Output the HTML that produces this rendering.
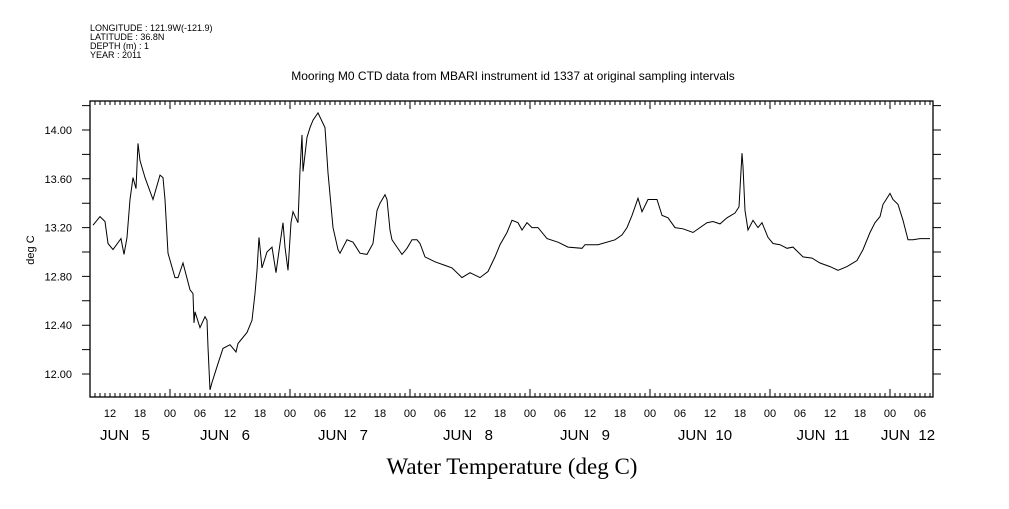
<!DOCTYPE html>
<html><head><meta charset="utf-8"><style>
body{margin:0;background:#fff;width:1009px;height:504px;overflow:hidden}
svg text{font-family:"Liberation Sans",sans-serif;fill:#000}
</style></head><body>
<svg id="chart" width="1009" height="504" xmlns="http://www.w3.org/2000/svg">
<g font-size="9">
<text x="90" y="31">LONGITUDE : 121.9W(-121.9)</text>
<text x="90" y="40">LATITUDE : 36.8N</text>
<text x="90" y="49">DEPTH (m) : 1</text>
<text x="90" y="58">YEAR : 2011</text>
</g>
<text x="513" y="80" font-size="12" text-anchor="middle">Mooring M0 CTD data from MBARI instrument id 1337 at original sampling intervals</text>
<text x="34" y="250" font-size="11" text-anchor="middle" transform="rotate(-90 34 250)">deg C</text>
<text x="512" y="474" font-size="23" text-anchor="middle" style="font-family:'Liberation Serif',serif">Water Temperature (deg C)</text>
<rect x="90" y="101" width="843" height="296" fill="none" stroke="#000" stroke-width="1.3"/>
<g id="axes"></g>
<path id="line" fill="none" stroke="#000" stroke-width="1"/>
</svg>
<script>
const hours=[0.6,2,3,3.6,4.6,6.2,6.8,7.4,8,8.6,9.2,9.6,10,11,12.6,14,14.6,15,15.6,17,17.6,18.6,20,20.6,20.8,21,22,23,23.4,23.6,24,24.4,25.4,26.6,28,29.2,29.6,31.4,32.4,33,33.4,33.8,34.4,35.4,36.4,37.2,37.6,38.6,39,39.6,40.2,40.6,41.6,42,42.4,42.6,43.4,44,44.6,45.6,47,47.6,48.6,49.6,50,51.4,52.6,54,55.4,56.6,57.4,58,59,59.4,60,60.4,61.4,62.4,63.4,64.4,65.4,66,67,69,71,72.4,74.4,76,78,79.6,81,82,83.4,84.4,85.6,86.4,87.4,88.4,89.6,91.4,93.6,95.6,98.4,99,101.6,105,106.4,107.4,108.4,109.6,110.4,111.6,113.4,114.4,115.6,117,118.6,120.6,123.4,124.6,126,127.4,129,129.8,130.4,130.6,131,131.6,132.6,133.6,134.4,135.6,136.6,138,139.4,140.6,142.6,144.4,146,148,149.6,151.4,153.4,154.6,156,157,158,158.6,160,160.6,161.6,162.6,163.6,164.6,166,168];
const temps=[13.22,13.29,13.25,13.07,13.02,13.11,12.98,13.12,13.43,13.61,13.52,13.89,13.75,13.61,13.43,13.63,13.61,13.43,12.99,12.79,12.79,12.91,12.69,12.66,12.42,12.51,12.38,12.47,12.44,12.22,11.87,11.93,12.06,12.21,12.24,12.18,12.25,12.34,12.44,12.66,12.85,13.12,12.87,13.00,13.04,12.83,12.95,13.24,13.04,12.85,13.24,13.33,13.24,13.67,13.96,13.66,13.94,14.02,14.08,14.14,14.02,13.65,13.20,13.02,12.99,13.10,13.08,12.99,12.98,13.07,13.34,13.40,13.47,13.43,13.18,13.10,13.04,12.98,13.03,13.10,13.10,13.07,12.96,12.92,12.89,12.87,12.79,12.83,12.79,12.84,12.96,13.06,13.16,13.26,13.24,13.18,13.24,13.20,13.20,13.11,13.08,13.04,13.03,13.06,13.06,13.10,13.14,13.20,13.30,13.44,13.33,13.43,13.43,13.30,13.28,13.20,13.19,13.16,13.24,13.25,13.23,13.28,13.32,13.37,13.81,13.70,13.34,13.18,13.26,13.20,13.24,13.12,13.07,13.06,13.03,13.04,12.96,12.95,12.91,12.88,12.85,12.88,12.93,13.02,13.16,13.24,13.29,13.39,13.48,13.43,13.39,13.26,13.10,13.10,13.11,13.11];
const yTickLabels=["12.00","12.40","12.80","13.20","13.60","14.00"];
const dateLabels=["JUN   5","JUN   6","JUN   7","JUN   8","JUN   9","JUN  10","JUN  11","JUN  12"];
const datePos=[125,225,343,468,585,705,823,908];
const X=h=>90+h*5, Y=t=>130+(14-t)*122;
const NS="http://www.w3.org/2000/svg";
const ax=document.getElementById('axes');
function mk(tag,attrs,parent){const e=document.createElementNS(NS,tag);for(const k in attrs)e.setAttribute(k,attrs[k]);(parent||ax).appendChild(e);return e;}
let d="";
for(let h=0;h<=168;h++){
 const major=((h+8)%24)===0;
 const x=X(h);
 d+=`M${x} 397V${major?389:393}M${x} 101V${major?109:105}`;
 if((h-4)%6===0){
  const t=mk('text',{x:x,y:417,'font-size':11,'text-anchor':'middle'});
  
  
  t.textContent=String((h+8)%24).padStart(2,'0');
 }
}
for(let i=0;i<=12;i++){
 const v=11.8+i*0.2, y=Y(v);
 if(y<101||y>397)continue;
 d+=`M82 ${y}H90M933 ${y}H941`;
}
yTickLabels.forEach(s=>{
 const t=mk('text',{x:72,y:Y(parseFloat(s))+4,'font-size':11,'text-anchor':'end'});
 
 
 t.textContent=s;
});
dateLabels.forEach((s,i)=>{
 const t=mk('text',{x:datePos[i],y:440,'font-size':15,'text-anchor':'middle',style:'white-space:pre'});
 
 
 t.textContent=s;
});
const ticks=mk('path',{d:d,stroke:'#000','stroke-width':1,fill:'none'});


document.getElementById('line').setAttribute('d',hours.map((h,i)=>(i?'L':'M')+X(h).toFixed(1)+' '+Y(temps[i]).toFixed(1)).join(''));
</script>
</body></html>
